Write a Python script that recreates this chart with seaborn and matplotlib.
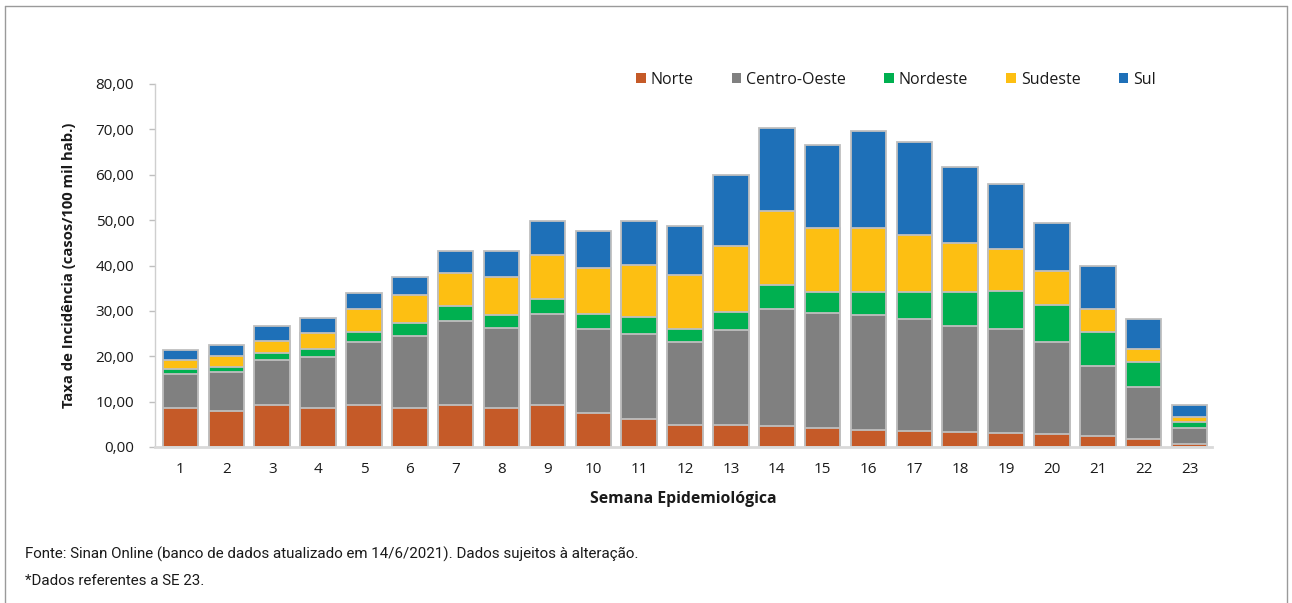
import matplotlib
matplotlib.use("Agg")
import matplotlib.pyplot as plt
from matplotlib.lines import Line2D
from matplotlib.patches import Patch
from matplotlib.ticker import MultipleLocator, FuncFormatter
import numpy as np
import pandas as pd
import seaborn as sns

# ---------------- data ----------------
weeks = ["1", "2", "3", "4", "5", "6", "7", "8", "9", "10", "11", "12",
         "13", "14", "15", "16", "17", "18", "19", "20", "21", "22", "23"]
regions = ["Norte", "Centro-Oeste", "Nordeste", "Sudeste", "Sul"]
norte = [8.5, 7.9, 9.3, 8.5, 9.2, 8.5, 9.25, 8.5, 9.25, 7.5, 6.2, 4.85,
         4.85, 4.55, 4.1, 3.8, 3.45, 3.2, 3.15, 2.8, 2.5, 1.85, 0.6]
centro_oeste = [7.5, 8.6, 9.9, 11.3, 13.9, 15.9, 18.55, 17.7, 20.15, 18.4, 18.6, 18.25,
                20.95, 25.85, 25.4, 25.3, 24.65, 23.5, 22.95, 20.3, 15.35, 11.35, 3.6]
nordeste = [1.1, 1.2, 1.5, 1.9, 2.2, 3.0, 3.2, 2.8, 3.3, 3.5, 3.9, 3.0,
            3.9, 5.3, 4.6, 5.0, 6.0, 7.4, 8.2, 8.3, 7.45, 5.5, 1.2]
sudeste = [2.1, 2.4, 2.7, 3.4, 5.1, 6.1, 7.4, 8.5, 9.7, 10.0, 11.5, 11.7,
           14.7, 16.4, 14.2, 14.2, 12.6, 10.9, 9.4, 7.4, 5.1, 3.0, 1.2]
sul = [2.2, 2.3, 3.3, 3.3, 3.6, 3.9, 4.9, 5.8, 7.4, 8.2, 9.6, 10.9,
       15.6, 18.1, 18.3, 21.3, 20.5, 16.6, 14.3, 10.6, 9.6, 6.4, 2.6]
colors = ["#C55A28", "#808080", "#00B050", "#FDBF12", "#1E70B8"]

title_y = "Taxa de Incidência (casos/100 mil hab.)"
title_x = "Semana Epidemiológica"
foot1 = "Fonte: Sinan Online (banco de dados atualizado em 14/6/2021). Dados sujeitos à alteração."
foot2 = "*Dados referentes a SE 23."

# ---------------- figure ----------------
sns.set_theme(style="white")
plt.rcParams["font.family"] = ["Open Sans", "DejaVu Sans"]
plt.rcParams["text.color"] = "#1a1a1a"

W, H = 1292, 603
fig = plt.figure(figsize=(W / 100, H / 100), dpi=100)
ax = fig.add_axes([155 / W, 1 - 447 / H, (1212 - 155) / W, (447 - 84) / H])

df = pd.DataFrame({"Semana": weeks, "Norte": norte, "Centro-Oeste": centro_oeste,
                   "Nordeste": nordeste, "Sudeste": sudeste, "Sul": sul})
cum = df[regions].cumsum(axis=1)
cum["Semana"] = df["Semana"]

for region, col in reversed(list(zip(regions, colors))):
    sns.barplot(data=cum, x="Semana", y=region, order=weeks, color=col,
                saturation=1, width=0.775, edgecolor="#bfbfbf", linewidth=1.3,
                errorbar=None, legend=False, ax=ax)

ax.set_xlim(-0.556, 22.49)
ax.set_ylim(0, 80)
ax.yaxis.set_major_locator(MultipleLocator(10))
ax.yaxis.set_major_formatter(FuncFormatter(lambda v, p: f"{v:.2f}".replace(".", ",")))

for s in ["top", "right"]:
    ax.spines[s].set_visible(False)
ax.spines["left"].set_color("#cfcfcf")
ax.spines["left"].set_linewidth(1.0)
ax.spines["bottom"].set_color("#d9d9d9")
ax.spines["bottom"].set_linewidth(2.0)

ax.tick_params(axis="y", left=True, length=4, width=1, color="#bfbfbf", pad=11,
               labelsize=11, labelcolor="#1a1a1a")
ax.tick_params(axis="x", bottom=False, length=0, pad=11, labelsize=11, labelcolor="#1a1a1a")

ax.set_ylabel(title_y, fontsize=10.7, fontweight="bold", color="#1a1a1a")
ax.yaxis.set_label_coords(-0.0747, 0.5)
ax.set_xlabel(title_x, fontsize=11.3, fontweight="bold", color="#1a1a1a")
ax.xaxis.set_label_coords(0.5, -0.122)

handles = [Patch(facecolor=c, edgecolor="none") for c in colors]
fig.legend(handles, regions, loc="center",
           bbox_to_anchor=(896 / W, 1 - 80 / H), ncol=5, frameon=False, fontsize=11.5,
           handlelength=0.6, handleheight=0.6, handletextpad=0.3, columnspacing=2.4)

foot_family = ["Roboto", "DejaVu Sans"]
fig.text(25 / W, 1 - 554 / H, foot1, ha="left", va="center", fontsize=10.9,
         family=foot_family, color="#1a1a1a")
fig.text(25 / W, 1 - 581 / H, foot2, ha="left", va="center", fontsize=10.9,
         family=foot_family, color="#1a1a1a")

# outer frame
for xs, ys in [([5 / W, 5 / W], [0, 1 - 6 / H]),
               ([5 / W, 1287 / W], [1 - 6 / H, 1 - 6 / H]),
               ([1287 / W, 1287 / W], [0, 1 - 6 / H])]:
    fig.add_artist(Line2D(xs, ys, transform=fig.transFigure, color="#9a9a9a", lw=1))

fig.savefig("out.png", dpi=100)
